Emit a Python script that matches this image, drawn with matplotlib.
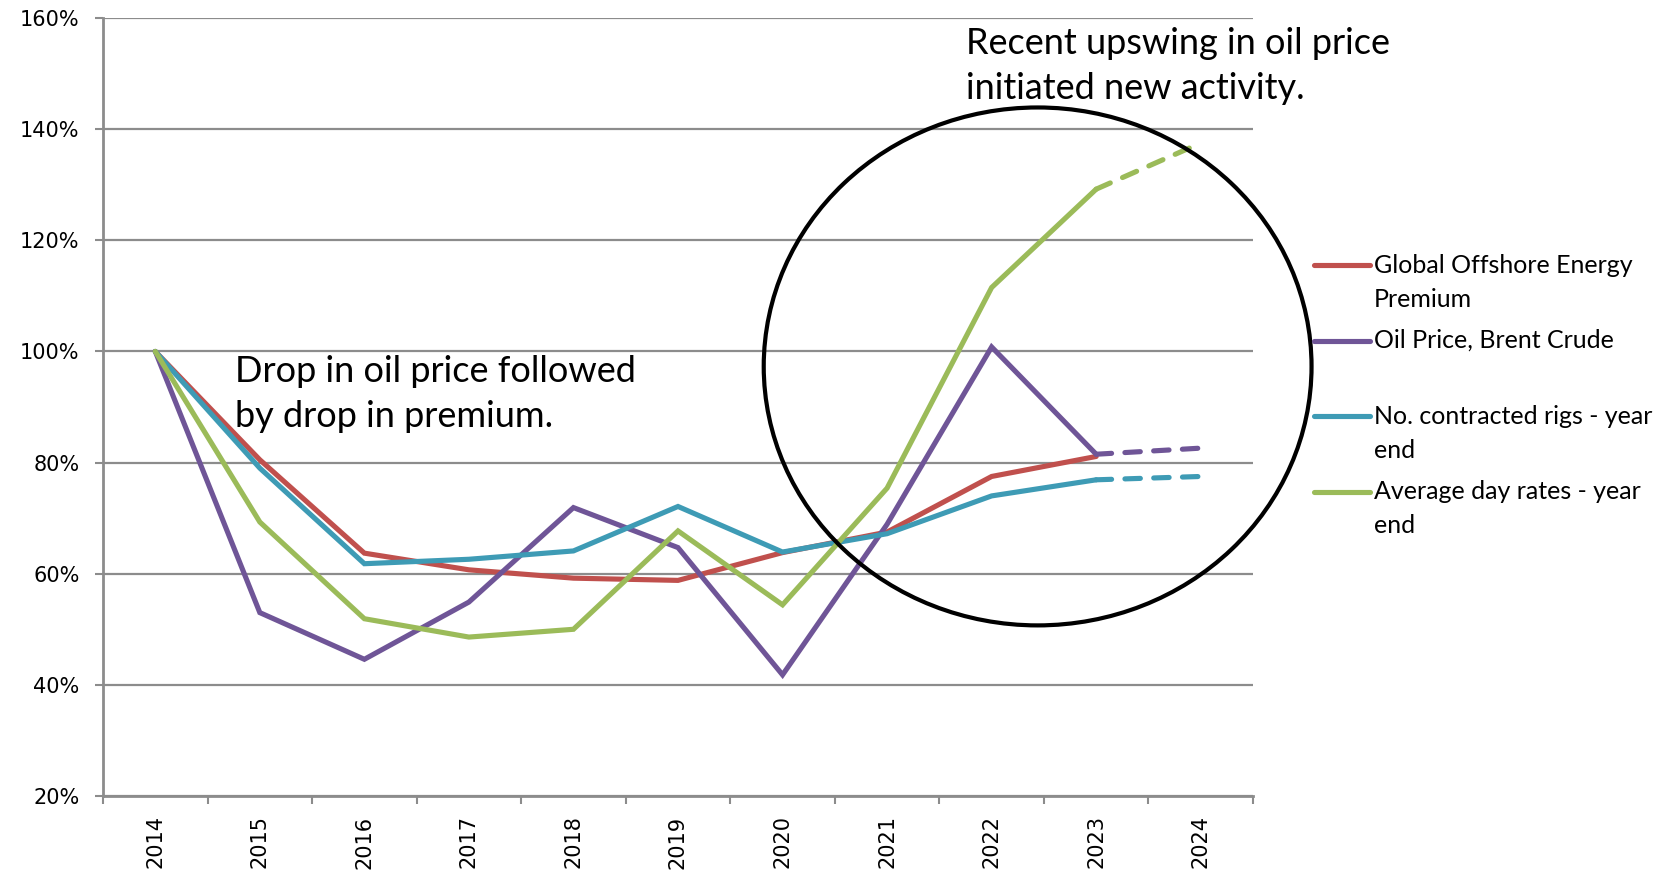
import matplotlib
matplotlib.use("Agg")
import matplotlib.pyplot as plt
from matplotlib.patches import Ellipse
from matplotlib.lines import Line2D
import numpy as np

years = ['2014', '2015', '2016', '2017', '2018', '2019', '2020', '2021', '2022', '2023', '2024']

# valores en %, el último (2024) es proyección -> línea punteada
premium = [100, 80.5, 63.7, 60.7, 59.2, 58.8, 63.8, 67.5, 77.5, 81.1, np.nan]
oil_price = [100, 53.0, 44.6, 54.9, 71.9, 64.7, 41.8, 68.9, 100.8, 81.5, 82.6]
rigs = [100, 79.0, 61.8, 62.6, 64.1, 72.1, 63.9, 67.2, 74.0, 76.9, 77.5]
day_rates = [100, 69.3, 51.9, 48.6, 50.0, 67.7, 54.4, 75.4, 111.5, 129.2, 137.5]

labels = ['Global Offshore Energy\nPremium', 'Oil Price, Brent Crude',
          'No. contracted rigs - year\nend', 'Average day rates - year\nend']
colores = ['#C0504D', '#6F5597', '#3E9BB5', '#9BBB59']
series = [premium, oil_price, rigs, day_rates]

W, H = 1665, 871
fig = plt.figure(figsize=(W / 100, H / 100), dpi=100)
ax = fig.add_axes([103 / W, 1 - 796 / H, (1253 - 103) / W, (796 - 18) / H])

x = np.arange(len(years))
for s, c in zip(series, colores):
    s = np.array(s, dtype=float)
    ax.plot(x[:10], s[:10], color=c, lw=3.7, solid_capstyle='round',
            solid_joinstyle='miter', zorder=3)
    ax.plot(x[9:], s[9:], color=c, lw=3.7, ls=(0, (3, 2.6)),
            dash_capstyle='round', zorder=3)

gris = '#8C8C8C'
ax.set_xlim(-0.5, 10.5)
ax.set_ylim(20, 160)
ax.set_yticks(np.arange(20, 161, 20))
ax.set_yticklabels([f'{v}%' for v in range(20, 161, 20)])
ax.yaxis.grid(True, color=gris, lw=1.6)
ax.set_axisbelow(True)

ax.set_xticks(x)
ax.set_xticklabels(years, rotation=90)
ax.set_xticks(np.arange(-0.5, 11, 1), minor=True)
ax.tick_params(axis='x', which='major', length=0, pad=14, labelsize=15)
ax.tick_params(axis='x', which='minor', length=6, width=1.5, color=gris, direction='out')
ax.tick_params(axis='y', length=6, width=1.5, color=gris, pad=11, labelsize=15)

for lado in ['top', 'right']:
    ax.spines[lado].set_visible(False)
for lado in ['left', 'bottom']:
    ax.spines[lado].set_color(gris)
    ax.spines[lado].set_linewidth(2)

# círculo de la zona reciente
circ = Ellipse((8.44, 97.3), 5.24, 93.2, fill=False, ec='black', lw=3,
               clip_on=False, zorder=4)
ax.add_patch(circ)

fuente = ['Lato', 'DejaVu Sans']
fig.text(235 / W, 1 - 394 / H, 'Drop in oil price followed\nby drop in premium.',
         fontsize=26, family=fuente, va='center', linespacing=1.45)
fig.text(966 / W, 1 - 66 / H, 'Recent upswing in oil price\ninitiated new activity.',
         fontsize=26, family=fuente, va='center', linespacing=1.45)

# leyenda armada a mano: la línea alineada con el primer renglón
ys_ley = [265.5, 341, 416.5, 492]
for yl, lab, c in zip(ys_ley, labels, colores):
    fig.add_artist(Line2D([1314 / W, 1370 / W], [1 - yl / H, 1 - yl / H],
                          color=c, lw=3.7, solid_capstyle='round',
                          transform=fig.transFigure))
    fig.text(1374 / W, 1 - (yl - 12) / H, lab, fontsize=18, family=fuente,
             va='top', linespacing=1.58)

fig.savefig('out.png', dpi=100)
